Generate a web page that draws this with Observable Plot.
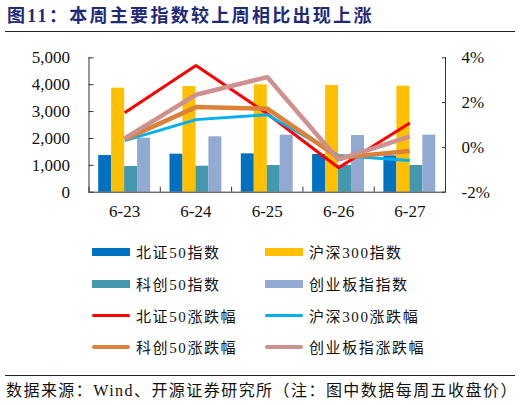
<!DOCTYPE html>
<html>
<head>
<meta charset="utf-8">
<script src="https://cdn.jsdelivr.net/npm/d3@7"></script>
<script src="https://cdn.jsdelivr.net/npm/@observablehq/plot@0.6"></script>
<style>
  html, body { margin: 0; padding: 0; background: #fff; width: 520px; height: 405px; overflow: hidden; }
  body { position: relative; font-family: "Liberation Serif", "Noto Sans CJK SC", serif; }
  #title { position: absolute; left: 7px; top: 3px; font-size: 18px; font-weight: 700; color: #1f2a78; letter-spacing: 2.3px; white-space: nowrap; line-height: 26px; }
  .hr { position: absolute; left: 5px; width: 510px; height: 0; border-top: 1px solid #222; }
  #chart { position: absolute; left: 0; top: 36px; }
  #legend { position: absolute; left: 92px; top: 236px; display: grid; grid-template-columns: 173px 200px; grid-auto-rows: 31.7px; }
  .item { display: flex; align-items: center; font-size: 15px; letter-spacing: 1.6px; color: #111; white-space: nowrap; }
  .sw { width: 38px; margin-right: 6px; flex: none; }
  #source { position: absolute; left: 6px; top: 380px; font-size: 16px; letter-spacing: 1.45px; color: #111; white-space: nowrap; line-height: 22px; }
</style>
</head>
<body>
<div id="title">图11：本周主要指数较上周相比出现上涨</div>
<div class="hr" style="top:31px"></div>
<div id="chart"></div>
<div id="legend"></div>
<div class="hr" style="top:375px"></div>
<div id="source">数据来源：Wind、开源证券研究所（注：图中数据每周五收盘价）</div>
<script>
// ---- data ----
const dates = ["6-23", "6-24", "6-25", "6-26", "6-27"];
const barNames = ["北证50指数", "沪深300指数", "科创50指数", "创业板指指数"];
const lineNames = ["北证50涨跌幅", "沪深300涨跌幅", "科创50涨跌幅", "创业板指涨跌幅"];
const bz50 = [1365, 1414, 1428, 1402, 1350];
const hs300 = [3870, 3932, 3996, 3970, 3945];
const kc50 = [956, 967, 993, 993, 993];
const cyb = [2009, 2061, 2121, 2108, 2121];
const bz50Chg = [1.55, 3.66, 1.50, -0.91, 1.09];
const hs300Chg = [0.30, 1.24, 1.46, -0.36, -0.58];
const kc50Chg = [0.36, 1.80, 1.73, -0.46, -0.16];
const cybChg = [0.40, 2.35, 3.14, -0.55, 0.49];
const leftTicks = [0, 1000, 2000, 3000, 4000, 5000];
const rightTicks = [-2, 0, 2, 4];

// ---- styles ----
const barColors = ["#0070c0", "#ffc000", "#4398ae", "#92a9d2"];
const lineColors = ["#ff0000", "#00b0f0", "#dc8138", "#cf9090"];
const lineWidths = [3, 3, 4.5, 4.5];

// left domain [0,5000] <-> right domain [-2%,4%]
const pctMin = -2, pctMax = 4, yMax = 5000;
const pctToY = p => (p - pctMin) / (pctMax - pctMin) * yMax;

const barSeries = [bz50, hs300, kc50, cyb];
const lineSeries = [bz50Chg, hs300Chg, kc50Chg, cybChg];

const groupFrac = 0.728;
const bw = groupFrac / barSeries.length;
const bars = [];
barSeries.forEach((vals, k) => vals.forEach((v, i) => {
  const x1 = i - groupFrac / 2 + k * bw;
  bars.push({x1, x2: x1 + bw, value: v, k});
}));

const marks = [];
barSeries.forEach((_, k) => {
  marks.push(Plot.rectY(bars.filter(d => d.k === k), {x1: "x1", x2: "x2", y: "value", fill: barColors[k]}));
});
lineSeries.forEach((vals, k) => {
  marks.push(Plot.line(vals.map((v, i) => ({i, v})), {x: "i", y: d => pctToY(d.v), stroke: lineColors[k], strokeWidth: lineWidths[k], strokeLinejoin: "miter", strokeLinecap: "butt"}));
});

const xEdges = d3.range(dates.length + 1).map(i => i - 0.5);

marks.push(
  Plot.ruleX([-0.5], {stroke: "#333"}),
  Plot.ruleX([dates.length - 0.5], {stroke: "#333"}),
  Plot.ruleY([0], {stroke: "#333"}),
  Plot.axisY({anchor: "left", label: null, ticks: leftTicks, tickFormat: d3.format(","), tickSize: -5, tickPadding: 24, stroke: "#333", fill: "#111"}),
  Plot.axisY({anchor: "right", label: null, ticks: rightTicks.map(pctToY), tickFormat: y => Math.round(y / yMax * (pctMax - pctMin) + pctMin) + "%", tickSize: -4, tickPadding: 20, textAnchor: "start", stroke: "#333", fill: "#111"}),
  Plot.axisX({label: null, ticks: xEdges, tickSize: -5, tickFormat: () => "", stroke: "#333"}),
  Plot.axisX({label: null, ticks: d3.range(dates.length), tickSize: 0, tickPadding: 13, tickFormat: i => dates[i], fill: "#111"})
);

const chart = Plot.plot({
  width: 520,
  height: 192,
  marginTop: 21.3,
  marginBottom: 36.3,
  marginLeft: 88.5,
  marginRight: 75,
  x: {domain: [-0.5, dates.length - 0.5], label: null},
  y: {domain: [0, yMax], label: null},
  style: {fontFamily: "'Liberation Serif', serif", fontSize: "17px", color: "#111", background: "transparent", overflow: "visible"},
  marks
});
document.getElementById("chart").appendChild(chart);

// ---- legend ----
const legend = document.getElementById("legend");
const entries = [];
for (let k = 0; k < 4; k++) entries.push({name: barNames[k], color: barColors[k], type: "bar"});
for (let k = 0; k < 4; k++) entries.push({name: lineNames[k], color: lineColors[k], type: "line", w: lineWidths[k]});
entries.forEach(e => {
  const it = document.createElement("div");
  it.className = "item";
  const sw = document.createElement("span");
  sw.className = "sw";
  if (e.type === "bar") { sw.style.height = "8px"; sw.style.background = e.color; }
  else { sw.style.height = (e.w === 3 ? 3 : 4) + "px"; sw.style.background = e.color; sw.style.borderRadius = "2px"; }
  it.appendChild(sw);
  const t = document.createElement("span");
  t.textContent = e.name;
  it.appendChild(t);
  legend.appendChild(it);
});
</script>
</body>
</html>
